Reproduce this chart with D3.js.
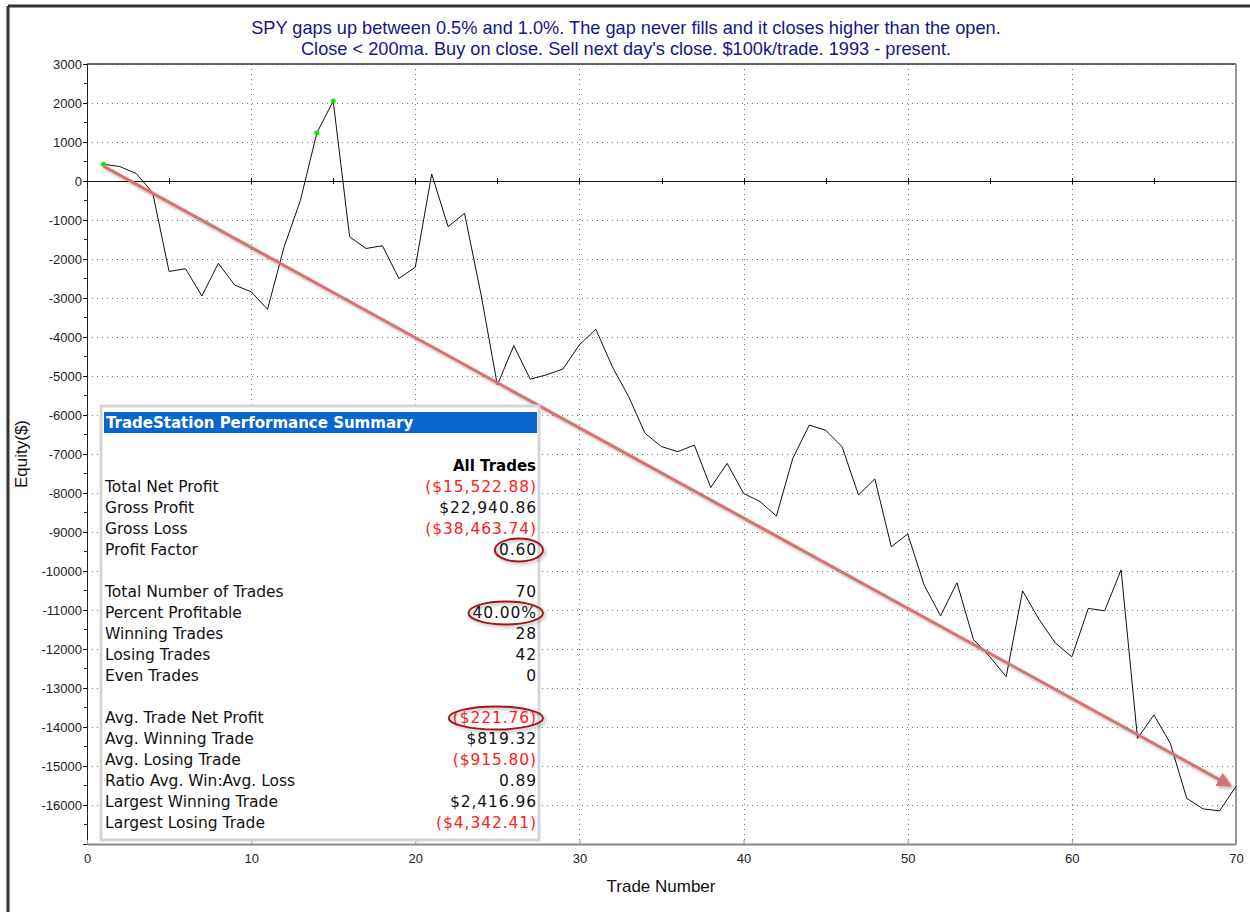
<!DOCTYPE html>
<html>
<head>
<meta charset="utf-8">
<script src="https://cdn.jsdelivr.net/npm/d3@7"></script>
<style>
  body { margin: 0; background: #fff; }
  svg { display: block; font-family: "Liberation Sans", Arial, sans-serif; }
</style>
</head>
<body>
<svg id="chart" width="1250" height="912"></svg>
<script>

// Chart data
const titleLines = [
    "SPY gaps up between 0.5% and 1.0%. The gap never fills and it closes higher than the open.",
    "Close < 200ma. Buy on close. Sell next day's close. $100k/trade. 1993 - present."
];
const tradeNumbers = d3.range(1, 71);
const equity = [
    428, 370, 190, -300, -2320, -2250, -2950, -2110, -2670, -2840,
    -3290, -1700, -500, 1230, 2050, -1430, -1730, -1660, -2500, -2210,
    180, -1170, -830, -2900, -5230, -4220, -5080, -4970, -4820, -4200,
    -3800, -4760, -5530, -6470, -6810, -6940, -6770, -7860, -7240, -8010,
    -8220, -8590, -7110, -6260, -6390, -6810, -8050, -7640, -9380, -9050,
    -10360, -11150, -10300, -11750, -12200, -12710, -10510, -11240, -11850, -12200,
    -10960, -11020, -9970, -14290, -13690, -14420, -15830, -16100, -16150, -15523
];
const xTicks = [0, 10, 20, 30, 40, 50, 60, 70];
const yTicks = d3.range(-16000, 3001, 1000);

// Trend arrow drawn over the equity curve
const arrowTrade = [1, 69.6];
const arrowEquity = [380, -15490];

// Performance summary table
const summaryLabels = [
    "Total Net Profit", "Gross Profit", "Gross Loss", "Profit Factor", "",
    "Total Number of Trades", "Percent Profitable", "Winning Trades", "Losing Trades", "Even Trades", "",
    "Avg. Trade Net Profit", "Avg. Winning Trade", "Avg. Losing Trade", "Ratio Avg. Win:Avg. Loss",
    "Largest Winning Trade", "Largest Losing Trade"
];
const summaryValues = [
    "($15,522.88)", "$22,940.86", "($38,463.74)", "0.60", "",
    "70", "40.00%", "28", "42", "0", "",
    "($221.76)", "$819.32", "($915.80)", "0.89",
    "$2,416.96", "($4,342.41)"
];
const circledValues = ["0.60", "40.00%", "($221.76)"];

const svg = d3.select("#chart");
const margin = {left: 87, right: 1236, top: 64, bottom: 844};

const x = d3.scaleLinear().domain([0, 70]).range([margin.left, margin.right]);
const y = d3.scaleLinear().domain([-17000, 3000]).range([margin.bottom, margin.top]);

const defs = svg.append("defs");
const shadow = defs.append("filter").attr("id", "shadow")
    .attr("x", "-10%").attr("y", "-10%").attr("width", "130%").attr("height", "140%");
shadow.append("feDropShadow").attr("dx", 2).attr("dy", 2)
    .attr("stdDeviation", 1.5).attr("flood-color", "#000").attr("flood-opacity", 0.3);
defs.append("marker").attr("id", "head")
    .attr("viewBox", "0 0 10 10").attr("refX", 8).attr("refY", 5)
    .attr("markerWidth", 5).attr("markerHeight", 5).attr("orient", "auto")
    .attr("markerUnits", "strokeWidth")
    .append("path").attr("d", "M0,0 L10,5 L0,10 z").attr("fill", "#d67272");

// Outer frame (left and top only)
svg.append("line").attr("x1", 8).attr("x2", 1250).attr("y1", 6).attr("y2", 6)
    .attr("stroke", "#333").attr("stroke-width", 3);
svg.append("line").attr("x1", 8).attr("x2", 8).attr("y1", 6).attr("y2", 912)
    .attr("stroke", "#333").attr("stroke-width", 3);

// Title
svg.append("g").selectAll("text").data(titleLines).join("text")
    .attr("x", 626).attr("y", (d, i) => 34 + i * 21)
    .attr("text-anchor", "middle").attr("font-size", 18.2).attr("fill", "#16168a")
    .text(d => d);

// Grid
svg.append("g").selectAll("line").data(yTicks.filter(d => d !== 0)).join("line")
    .attr("x1", margin.left).attr("x2", margin.right)
    .attr("y1", d => y(d) + 0.5).attr("y2", d => y(d) + 0.5)
    .attr("stroke", "#777").attr("stroke-dasharray", "1,4");
svg.append("g").selectAll("line").data(xTicks.slice(1, -1)).join("line")
    .attr("x1", d => Math.round(x(d)) + 0.5).attr("x2", d => Math.round(x(d)) + 0.5)
    .attr("y1", margin.top).attr("y2", margin.bottom)
    .attr("stroke", "#777").attr("stroke-dasharray", "1,4");

// Plot border
svg.append("line").attr("x1", margin.left).attr("x2", margin.right)
    .attr("y1", margin.top).attr("y2", margin.top).attr("stroke", "#333").attr("stroke-width", 1.5);
svg.append("line").attr("x1", margin.right).attr("x2", margin.right)
    .attr("y1", margin.top).attr("y2", margin.bottom).attr("stroke", "#999").attr("stroke-width", 2);

// Axes
const yAxis = svg.append("g")
    .attr("transform", `translate(${margin.left},0)`)
    .call(d3.axisLeft(y).tickValues(yTicks).tickSize(4).tickPadding(1).tickFormat(d => String(d)));
yAxis.selectAll("text").attr("font-size", 13).attr("fill", "#222")
    .attr("font-family", "Liberation Sans, Arial, sans-serif");
yAxis.select(".domain").attr("stroke", "#222");
svg.append("g").selectAll("line").data(d3.range(-16500, 3000, 1000)).join("line")
    .attr("x1", margin.left - 3).attr("x2", margin.left)
    .attr("y1", d => y(d)).attr("y2", d => y(d)).attr("stroke", "#222");

const xAxis = svg.append("g")
    .attr("transform", `translate(0,${margin.bottom})`)
    .call(d3.axisBottom(x).tickValues(xTicks).tickSizeInner(-4).tickSizeOuter(0).tickPadding(10));
xAxis.selectAll("text").attr("font-size", 13).attr("fill", "#222")
    .attr("font-family", "Liberation Sans, Arial, sans-serif");
xAxis.select(".domain").attr("stroke", "#888").attr("stroke-width", 2);
xAxis.selectAll(".tick line").attr("stroke", "#999");

// Zero line with tick marks every 5 trades
svg.append("line").attr("x1", margin.left).attr("x2", margin.right)
    .attr("y1", y(0) + 0.5).attr("y2", y(0) + 0.5).attr("stroke", "#111");
svg.append("g").selectAll("line").data(d3.range(5, 70, 5)).join("line")
    .attr("x1", d => Math.round(x(d)) + 0.5).attr("x2", d => Math.round(x(d)) + 0.5)
    .attr("y1", y(0) - 3).attr("y2", y(0) + 3).attr("stroke", "#111");

// Axis titles
svg.append("text").attr("x", 661).attr("y", 892).attr("text-anchor", "middle")
    .attr("font-size", 17).attr("fill", "#111").text("Trade Number");
svg.append("text").attr("transform", "translate(27,454) rotate(-90)")
    .attr("text-anchor", "middle").attr("font-size", 17).attr("fill", "#111").text("Equity($)");

// Equity curve
const points = tradeNumbers.map((t, i) => ({trade: t, value: equity[i]}));
svg.append("path").datum(points)
    .attr("fill", "none").attr("stroke", "#111").attr("stroke-width", 1)
    .attr("d", d3.line().x(d => x(d.trade)).y(d => y(d.value)));

// New equity highs
let runMax = -Infinity;
const highs = points.filter(d => { const h = d.value > runMax; runMax = Math.max(runMax, d.value); return h; });
svg.append("g").selectAll("circle").data(highs).join("circle")
    .attr("cx", d => x(d.trade)).attr("cy", d => y(d.value)).attr("r", 2.5)
    .attr("fill", "#11e011");

// Trend arrow
svg.append("line")
    .attr("x1", x(arrowTrade[0])).attr("y1", y(arrowEquity[0]))
    .attr("x2", x(arrowTrade[1])).attr("y2", y(arrowEquity[1]))
    .attr("stroke", "#d67272").attr("stroke-width", 3)
    .attr("marker-end", "url(#head)").attr("filter", "url(#shadow)");

// Performance summary box
const box = svg.append("g").attr("font-family", "'DejaVu Sans', Verdana, sans-serif");
box.append("rect").attr("x", 101).attr("y", 406).attr("width", 438).attr("height", 434)
    .attr("fill", "#fff").attr("stroke", "#d6d6d6").attr("stroke-width", 3);
box.append("rect").attr("x", 104).attr("y", 412).attr("width", 433).attr("height", 21)
    .attr("fill", "#0a66cc");
box.append("text").attr("x", 106).attr("y", 428).attr("fill", "#fff")
    .attr("font-weight", "bold").attr("font-size", 15).text("TradeStation Performance Summary");
box.append("text").attr("x", 536).attr("y", 471).attr("text-anchor", "end")
    .attr("font-weight", "bold").attr("font-size", 15).attr("fill", "#000").text("All Trades");

const rowY = i => 492 + i * 21;
box.append("g").selectAll("text").data(summaryLabels).join("text")
    .attr("x", 105).attr("y", (d, i) => rowY(i)).attr("font-size", 15.5).attr("fill", "#111")
    .text(d => d);
const valueText = box.append("g").selectAll("text").data(summaryValues).join("text")
    .attr("x", 537).attr("y", (d, i) => rowY(i)).attr("text-anchor", "end").attr("font-size", 15.5)
    .attr("letter-spacing", 0.9)
    .attr("fill", d => d.startsWith("(") ? "#ff2020" : "#111")
    .text(d => d);

// Highlight ellipses around key values, sized from the rendered text
valueText.filter(d => circledValues.includes(d)).each(function() {
    const b = this.getBBox();
    box.append("ellipse")
        .attr("cx", b.x + b.width / 2 + 1)
        .attr("cy", b.y + b.height / 2)
        .attr("rx", b.width / 2 + 5)
        .attr("ry", 11.5)
        .attr("fill", "none").attr("stroke", "#a51515").attr("stroke-width", 2)
        .attr("filter", "url(#shadow)");
});

</script>
</body>
</html>
